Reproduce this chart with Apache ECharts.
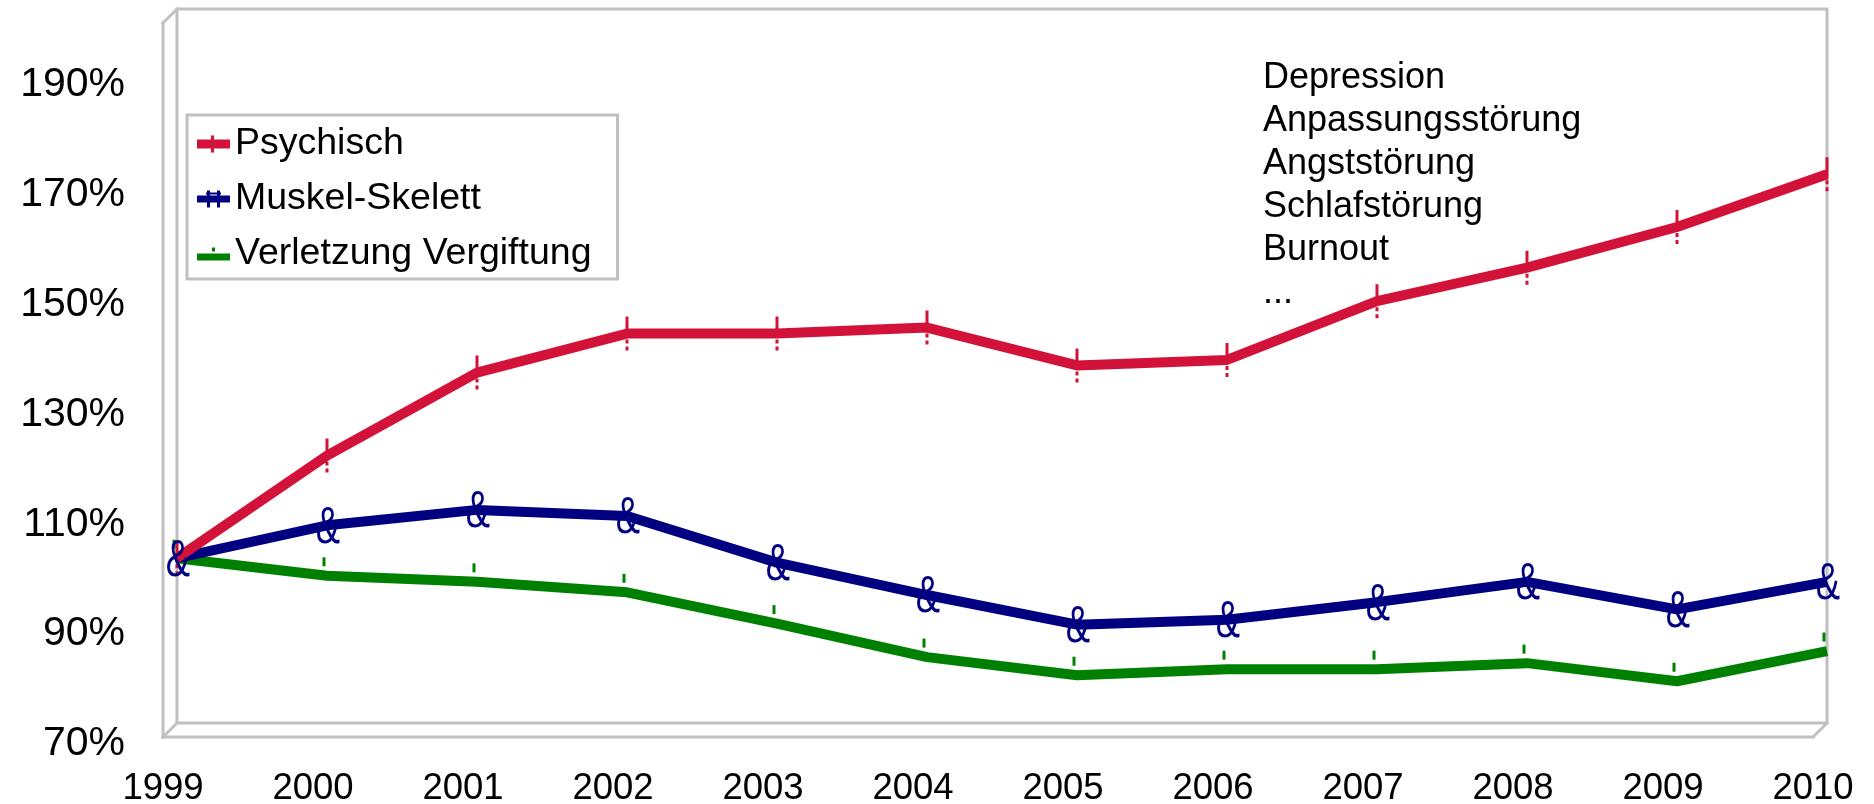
<!DOCTYPE html>
<html>
<head>
<meta charset="utf-8">
<title>Arbeitsunfähigkeit nach Diagnosegruppen 1999–2010</title>
<script src="https://cdn.jsdelivr.net/npm/echarts@6/dist/echarts.min.js"></script>
<style>
  html, body { margin: 0; padding: 0; background: #ffffff; }
  #chart { width: 1874px; height: 804px; }
</style>
</head>
<body>
<div id="chart"></div>
<script>
// Jahre (Kategorien)
const years = ['1999', '2000', '2001', '2002', '2003', '2004', '2005', '2006', '2007', '2008', '2009', '2010'];

// Index in Prozent, 1999 = 100 %
const psychisch = [100, 118.7, 133.8, 140.9, 140.9, 142.0, 135.1, 136.1, 146.8, 152.9, 160.3, 169.9];
const muskelSkelett = [100, 106.0, 108.8, 107.7, 99.2, 93.3, 87.9, 88.8, 92.0, 95.7, 90.7, 95.7];
const verletzung = [100, 96.8, 95.7, 93.8, 88.1, 82.0, 78.7, 79.8, 79.8, 80.9, 77.6, 83.1];

// Beschriftete Werte der y-Achse
const yTickLabels = [70, 90, 110, 130, 150, 170, 190];

// Beispiele psychischer Diagnosen
const diagnosen = ['Depression', 'Anpassungsstörung', 'Angststörung', 'Schlafstörung', 'Burnout', '...'];

const FONT = 'Liberation Sans, Arial, Helvetica, sans-serif';
const FRAME = '#c0c0c0';
const RED = '#d21238';
const NAVY = '#000080';
const GREEN = '#008000';
const LINE_W = 10;

// Marker "¦" für Psychisch: oben durchgezogen, unten gestrichelt
const redMarker = 'path://M0,0H3V20H0Z M0,23H3V27H0Z M0,30H3V34H0Z';

const chart = echarts.init(document.getElementById('chart'), null, { renderer: 'canvas' });

const hiddenAxis = {
  axisLine: { show: false, onZero: false }, axisTick: { show: false },
  axisLabel: { show: false }, splitLine: { show: false }
};

const option = {
  animation: false,
  backgroundColor: '#ffffff',
  textStyle: { fontFamily: FONT },
  grid: [
    // hintere Wand (Datenebene)
    { left: 177, right: 47, top: 9, bottom: 81, outerBoundsMode: 'none', containLabel: false,
      show: true, borderColor: FRAME, borderWidth: 3, backgroundColor: 'transparent' },
    // vordere Kante mit Jahresbeschriftung
    { left: 163, right: 61, top: 23, bottom: 67, outerBoundsMode: 'none', containLabel: false },
    // Ebene der Prozentbeschriftung
    { left: 163, right: 61, top: 30, bottom: 60, outerBoundsMode: 'none', containLabel: false }
  ],
  xAxis: [
    Object.assign({ gridIndex: 0, type: 'category', data: years, boundaryGap: false }, hiddenAxis),
    {
      gridIndex: 1, type: 'category', data: years, boundaryGap: false, position: 'bottom',
      axisLine: { show: false, onZero: false },
      axisTick: { show: false },
      axisLabel: { show: true, fontSize: 36.5, color: '#000', fontFamily: FONT, margin: 33 },
      splitLine: { show: false }
    },
    Object.assign({ gridIndex: 2, type: 'category', data: years, boundaryGap: false }, hiddenAxis)
  ],
  yAxis: [
    Object.assign({ gridIndex: 0, type: 'value', min: 70, max: 200 }, hiddenAxis),
    Object.assign({ gridIndex: 1, type: 'value', min: 70, max: 200 }, hiddenAxis),
    {
      gridIndex: 2, type: 'value', min: 70, max: 200, interval: 10,
      axisLine: { show: false, onZero: false }, axisTick: { show: false }, splitLine: { show: false },
      axisLabel: {
        show: true, fontSize: 41, color: '#000', fontFamily: FONT, margin: 38,
        formatter: function (v) { return yTickLabels.indexOf(v) >= 0 ? v + '%' : ''; }
      }
    }
  ],
  legend: {
    orient: 'vertical',
    left: 187, top: 115,
    padding: [9, 26, 5, 10],
    itemWidth: 33, itemHeight: 17, itemGap: 15,
    borderColor: FRAME, borderWidth: 3, backgroundColor: '#ffffff',
    textStyle: { fontSize: 37.5, color: '#000', fontFamily: FONT, lineHeight: 40 },
    data: [
      { name: 'Psychisch', icon: 'path://M0,4H33V13H0Z M14,0H17V17H14Z' },
      { name: 'Muskel-Skelett', icon: 'path://M0,5H33V12H0Z M10,0H13V17H10Z M20,0H23V17H20Z M9,2H24V4H9Z' },
      { name: 'Verletzung Vergiftung', icon: 'path://M0,7H33V14H0Z M15,1H18V5H15Z' }
    ]
  },
  series: [
    {
      name: 'Psychisch', type: 'line', xAxisIndex: 0, yAxisIndex: 0, data: psychisch,
      color: RED,
      lineStyle: { width: LINE_W, color: RED },
      symbol: redMarker, symbolSize: [3, 34], itemStyle: { color: RED },
      z: 4
    },
    {
      name: 'Muskel-Skelett', type: 'line', xAxisIndex: 0, yAxisIndex: 0, data: muskelSkelett,
      color: NAVY,
      lineStyle: { width: LINE_W, color: NAVY },
      symbol: 'none',
      z: 3
    },
    {
      // "&"-Marker der Reihe Muskel-Skelett
      name: 'Muskel-Skelett', type: 'custom', xAxisIndex: 0, yAxisIndex: 0,
      data: muskelSkelett.map(function (v, i) { return [i, v]; }),
      color: NAVY,
      renderItem: function (params, api) {
        const p = api.coord([api.value(0), api.value(1)]);
        return {
          type: 'text', x: p[0] + 1, y: p[1] + 3, scaleX: 0.7,
          style: { text: '&', font: 'normal 52px ' + FONT, fill: NAVY, align: 'center', verticalAlign: 'middle' }
        };
      },
      z: 6
    },
    {
      name: 'Verletzung Vergiftung', type: 'line', xAxisIndex: 0, yAxisIndex: 0, data: verletzung,
      color: GREEN,
      lineStyle: { width: LINE_W, color: GREEN },
      symbol: 'rect', symbolSize: [3, 9], symbolOffset: [-3, -14], itemStyle: { color: GREEN },
      z: 2
    }
  ]
};

chart.setOption(option);

// Vordere Kante und perspektivische Verbindungskanten zur hinteren Wand
const back = { xAxisIndex: 0, yAxisIndex: 0 };
const front = { xAxisIndex: 1, yAxisIndex: 1 };
const last = years.length - 1;
const bTL = chart.convertToPixel(back, [0, 200]);
const fTL = chart.convertToPixel(front, [0, 200]);
const bBL = chart.convertToPixel(back, [0, 70]);
const fBL = chart.convertToPixel(front, [0, 70]);
const bBR = chart.convertToPixel(back, [last, 70]);
const fBR = chart.convertToPixel(front, [last, 70]);

function edge(a, b) {
  return {
    type: 'line', silent: true, z: 1,
    shape: { x1: a[0], y1: a[1], x2: b[0], y2: b[1] },
    style: { stroke: FRAME, lineWidth: 3, lineCap: 'square' }
  };
}

chart.setOption({
  graphic: [
    edge(fTL, fBL),
    edge(fBL, fBR),
    edge(fTL, bTL),
    edge(fBL, bBL),
    edge(fBR, bBR),
    {
      type: 'text', left: 1263, top: 57, z: 10,
      style: { text: diagnosen.join('\n'), fontSize: 36, lineHeight: 43, fontFamily: FONT, fill: '#000' }
    }
  ]
});
</script>
</body>
</html>
